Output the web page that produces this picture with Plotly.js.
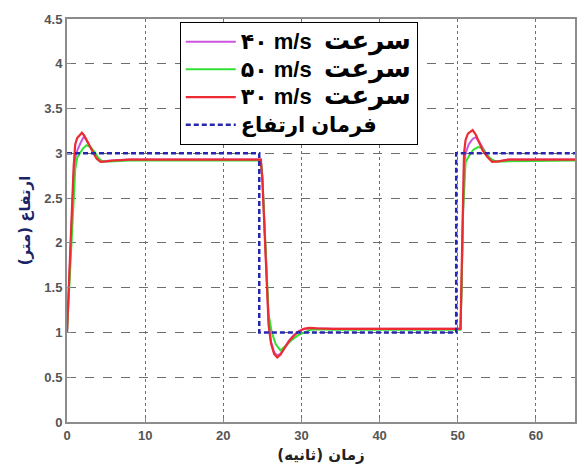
<!DOCTYPE html>
<html>
<head>
<meta charset="utf-8">
<script src="https://cdn.plot.ly/plotly-3.0.1.min.js"></script>
<style>html,body{margin:0;padding:0;background:#fff;}#chart{width:577px;height:467px;}</style>
</head>
<body>
<div id="chart"></div>
<script>
// Series names (legend)
const names = ["۴۰ m/s سرعت", "۵۰ m/s سرعت", "۳۰ m/s سرعت", "فرمان ارتفاع"];

// speed 40 m/s (magenta)
const t40 = [0,0.2,0.43,0.64,0.85,1.05,1.35,1.7,2.1,2.4,2.8,3.2,3.6,4.0,4.5,5.5,8,
  24.8,25.0,25.2,25.4,25.6,25.8,26.1,26.5,26.9,27.3,27.8,28.4,29.0,29.6,30.3,31,34,
  50.35,50.5,50.65,50.8,51.0,51.4,51.9,52.3,52.8,53.4,53.9,54.4,55.2,56.5,65];
const y40 = [1.0,1.45,1.92,2.4,2.75,2.95,3.04,3.11,3.18,3.16,3.1,3.03,2.97,2.93,2.91,2.92,2.93,
  2.93,2.72,2.32,1.85,1.45,1.12,0.9,0.78,0.74,0.76,0.83,0.91,0.97,1.01,1.04,1.045,1.04,
  1.04,1.55,2.3,2.85,3.0,3.1,3.16,3.18,3.12,3.04,2.96,2.92,2.91,2.93,2.93];

// speed 50 m/s (green)
const t50 = [0,0.2,0.45,0.65,0.85,1.05,1.3,1.6,2.0,2.5,3.0,3.5,4.0,4.5,5.5,8,
  24.8,25.0,25.2,25.4,25.6,25.8,26.2,26.7,27.3,28.0,28.8,29.6,30.4,31.2,32.5,34,
  50.35,50.5,50.65,50.85,51.0,51.5,52.0,52.6,53.1,53.6,54.2,54.8,56,65];
const y50 = [1.0,1.35,1.85,2.25,2.6,2.82,2.95,3.0,3.05,3.09,3.07,3.02,2.95,2.91,2.91,2.92,
  2.92,2.75,2.35,1.9,1.5,1.2,1.0,0.87,0.8,0.85,0.92,0.97,1.0,1.03,1.035,1.03,
  1.03,1.5,2.3,2.75,2.9,2.98,3.04,3.07,3.06,3.0,2.94,2.91,2.91,2.92];

// speed 30 m/s (red)
const t30 = [0,0.2,0.43,0.64,0.85,1.05,1.3,1.6,1.9,2.2,2.6,3.0,3.4,3.8,4.3,5.0,6.0,8,
  24.8,25.0,25.2,25.4,25.6,25.8,26.1,26.5,26.9,27.3,27.8,28.4,29.0,29.6,30.3,31,32,34,
  50.35,50.5,50.65,50.8,51.0,51.3,51.9,52.3,52.7,53.2,53.8,54.4,55.2,56.5,65];
const y30 = [1.0,1.47,1.96,2.5,2.85,3.1,3.17,3.2,3.23,3.2,3.13,3.06,3.0,2.94,2.905,2.91,2.92,2.93,
  2.93,2.7,2.3,1.8,1.4,1.08,0.88,0.76,0.72,0.75,0.82,0.9,0.96,1.01,1.04,1.05,1.045,1.04,
  1.04,1.6,2.4,3.0,3.15,3.22,3.26,3.21,3.13,3.03,2.96,2.905,2.91,2.93,2.93];

// altitude command (blue dashed)
const tCmd = [0,24.6,24.6,49.8,49.8,65];
const yCmd = [3,3,1,1,3,3];

const xTicks = [0,10,20,30,40,50,60];
const yTicks = [0,0.5,1,1.5,2,2.5,3,3.5,4,4.5];

// legend label styling: larger Persian word after the speed
function styled(n) {
  const parts = n.split(' ');
  const ar = parts.pop();
  if (/m\/s/.test(n)) {
    return '<span style="font-size:22px">' + parts.join(' ') + '  </span><span style="font-size:26px">' + ar + '</span>';
  }
  return '<span style="font-size:21px">' + n + '</span>';
}

const traces = [
  {x:t40,y:y40,name:styled(names[0]),mode:'lines',line:{color:'#cc55dd',width:2}},
  {x:t50,y:y50,name:styled(names[1]),mode:'lines',line:{color:'#33e033',width:2}},
  {x:t30,y:y30,name:styled(names[2]),mode:'lines',line:{color:'#ee2a33',width:2.2}},
  {x:tCmd,y:yCmd,name:styled(names[3]),mode:'lines',line:{color:'#2626b0',width:2.5,dash:'5px,3px'}}
];

const axisCommon = {
  showline:true, mirror:true, linecolor:'#8c8c8c', linewidth:2,
  ticks:'inside', ticklen:4, tickcolor:'#8c8c8c',
  showgrid:true, gridcolor:'#6e6e6e', gridwidth:1,
  zeroline:false,
  tickfont:{family:'Liberation Sans, Arial, sans-serif', size:13, color:'#555', weight:'bold'}
};

const layout = {
  width:577, height:467,
  margin:{l:67, r:2, t:19, b:45},
  paper_bgcolor:'#fff', plot_bgcolor:'#fff',
  showlegend:true,
  legend:{
    x:0.222, y:0.993, xanchor:'left', yanchor:'top',
    bgcolor:'#fff', bordercolor:'#000', borderwidth:1,
    itemwidth:50, tracegroupgap:0,
    font:{family:'Liberation Sans, DejaVu Sans, sans-serif', size:19, color:'#000', weight:'bold'}
  },
  xaxis:Object.assign({}, axisCommon, {
    range:[0,65], tickvals:xTicks, ticktext:xTicks.map(String), griddash:'dot',
    title:{text:'زمان (ثانیه)\u200F', standoff:8, font:{family:'DejaVu Sans, sans-serif', size:15, color:'#222', weight:'bold'}}
  }),
  yaxis:Object.assign({}, axisCommon, {
    range:[0,4.5], tickvals:yTicks, ticktext:yTicks.map(String), griddash:'dash',
    title:{text:'ارتفاع (متر)\u200F', standoff:10, font:{family:'DejaVu Sans, sans-serif', size:15, color:'#1a2466', weight:'bold'}}
  })
};

Plotly.newPlot('chart', traces, layout, {displayModeBar:false, staticPlot:true});
</script>
</body>
</html>
